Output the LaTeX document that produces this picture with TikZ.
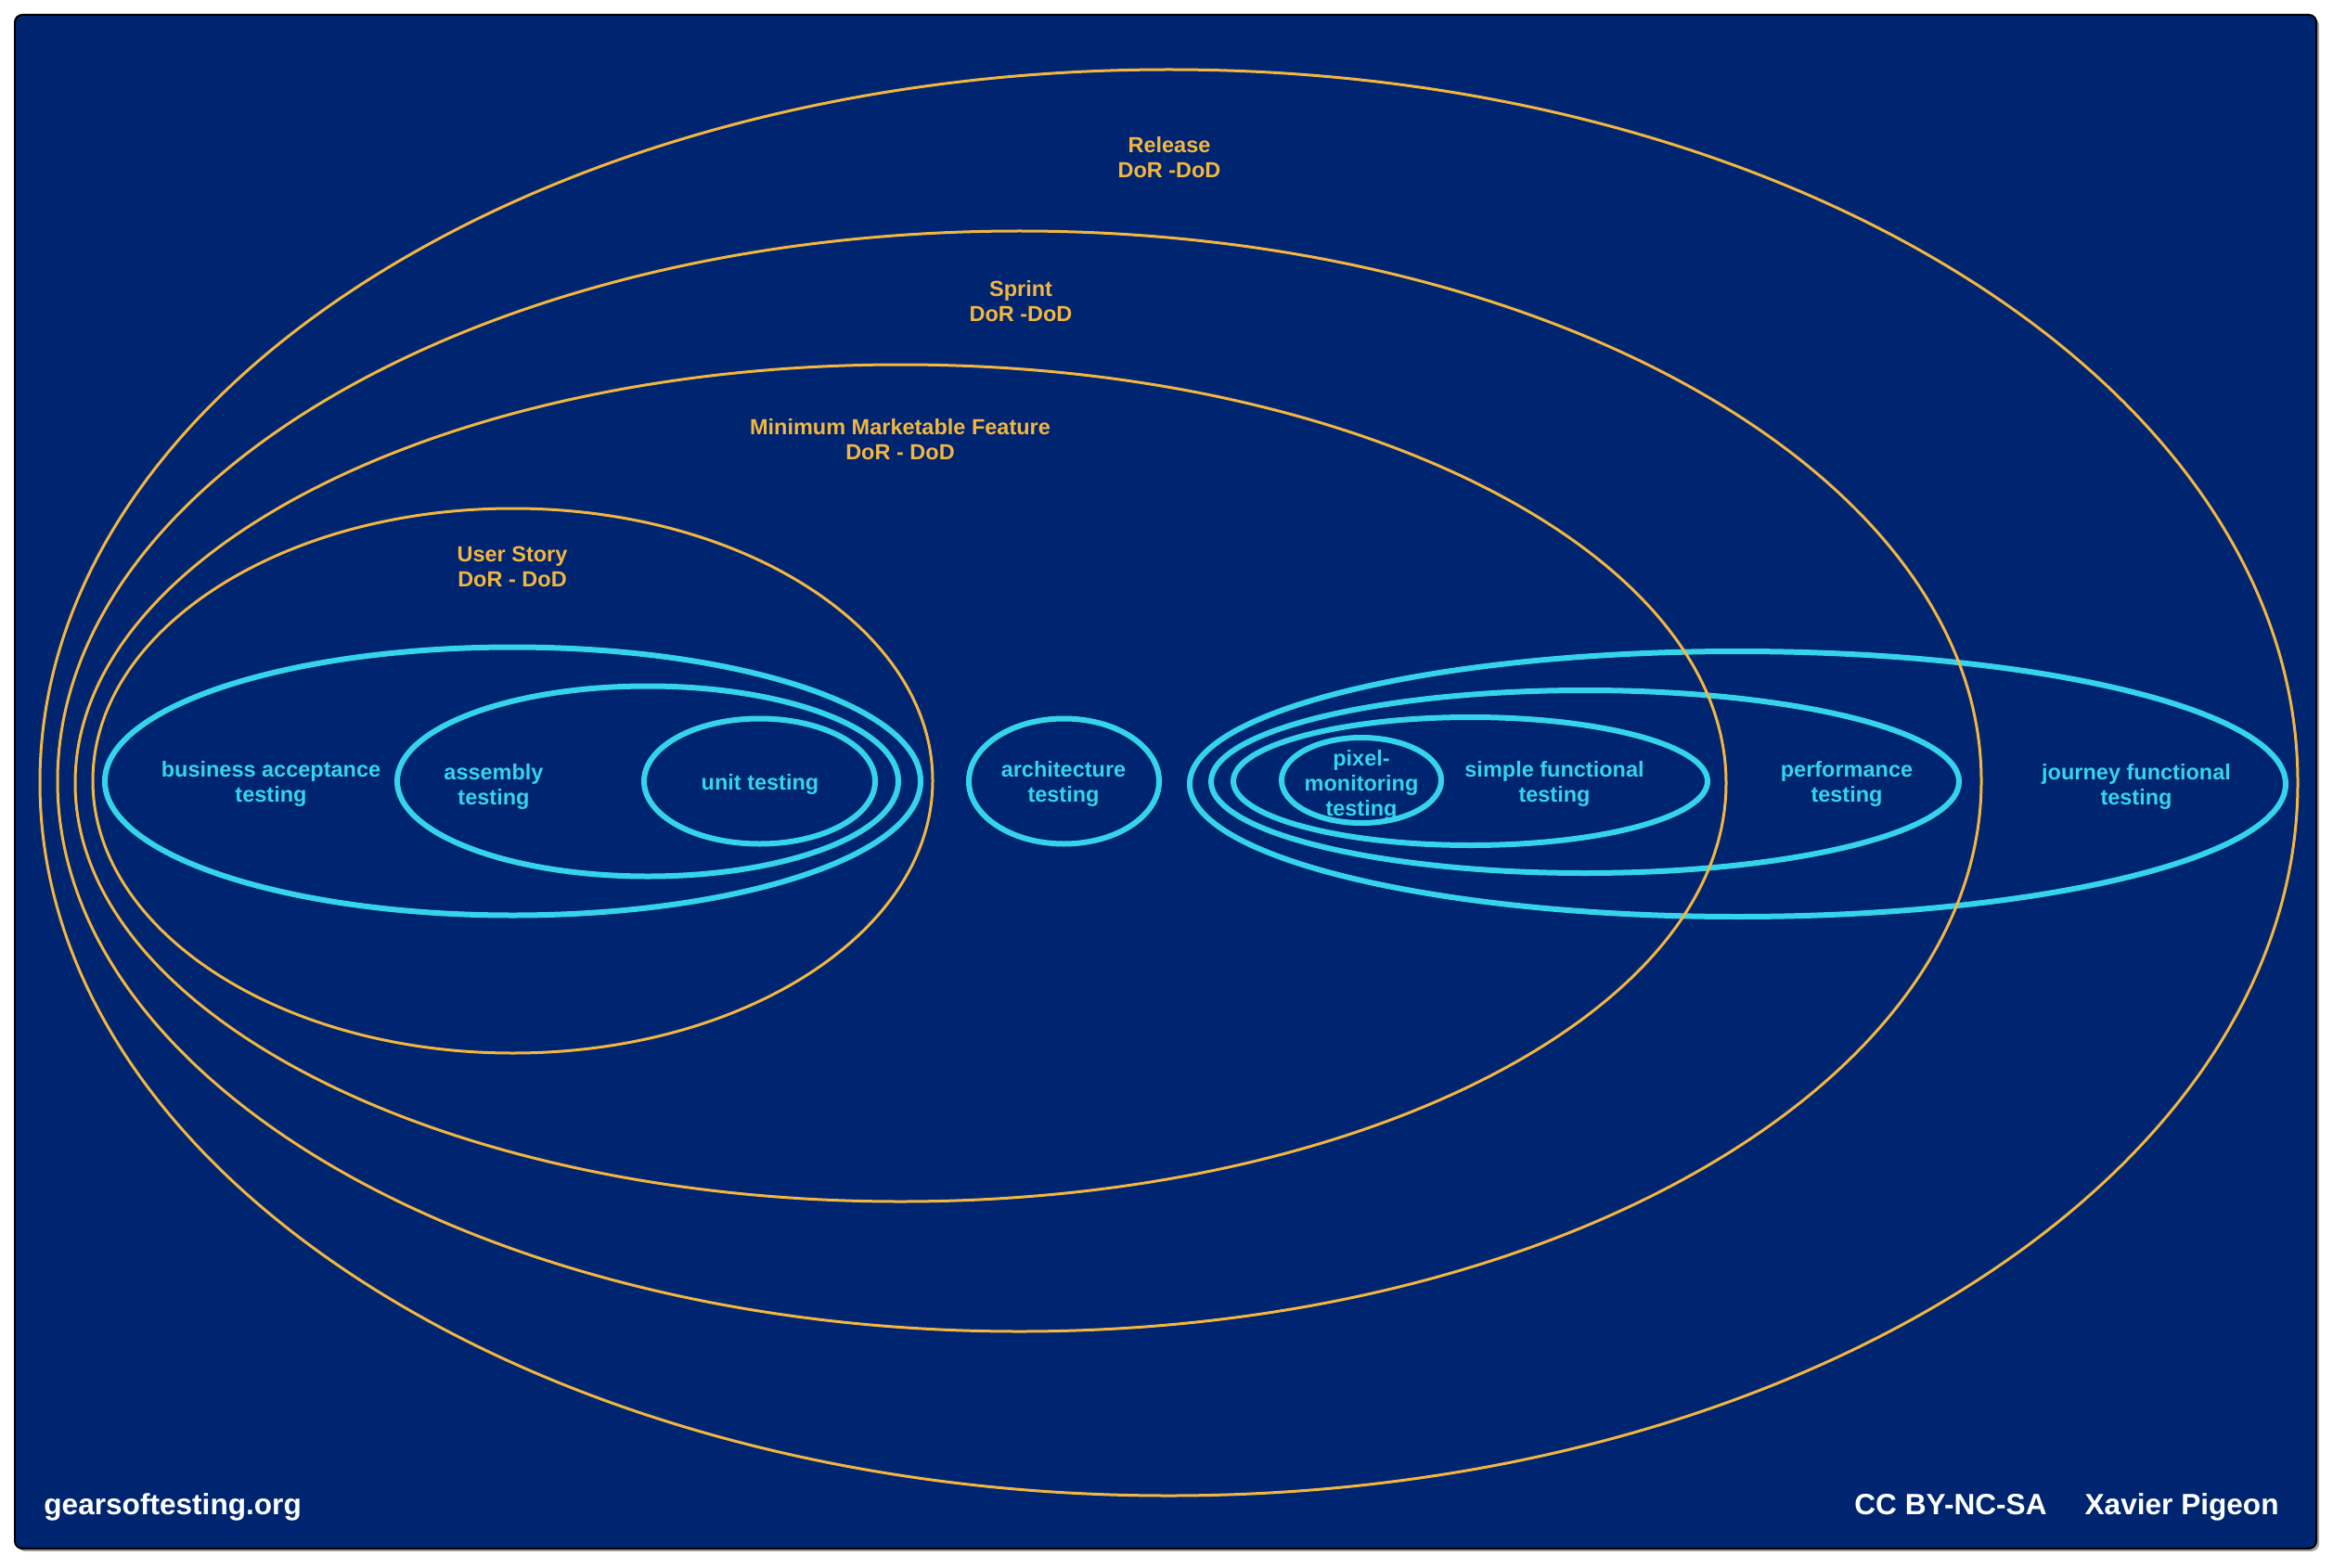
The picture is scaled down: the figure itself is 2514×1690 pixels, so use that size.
\documentclass[tikz,border=0pt]{standalone}
\usepackage{fontspec}
\setmainfont{Liberation Sans}
\usetikzlibrary{shapes.geometric}
\definecolor{navy}{RGB}{0,37,112}
\definecolor{gold}{RGB}{243,182,64}
\definecolor{cyanb}{RGB}{53,212,235}
\begin{document}
\begin{tikzpicture}[x=0.5pt,y=-0.5pt,
  ell/.style 2 args={ellipse, inner sep=0pt, outer sep=0pt, minimum width=#1pt, minimum height=#2pt},
  lvl/.style={draw=gold, line width=1.5pt},
  tst/.style={draw=cyanb, line width=3pt},
  lvltext/.style={text=gold, font=\bfseries\fontsize{11.75}{13.5}\selectfont, align=center, inner sep=0pt},
  tsttext/.style={text=cyanb, font=\bfseries\fontsize{11.75}{13.5}\selectfont, align=center, inner sep=0pt},
  foot/.style={text=white, font=\bfseries\fontsize{15.8}{18}\selectfont, inner sep=0pt}]
\useasboundingbox (0,0) rectangle (2514,1690);
\fill[white] (0,0) rectangle (2514,1690);
\fill[gray!70, rounded corners=4pt] (19,19) rectangle (2499,1672);
\filldraw[fill=navy, draw=black, line width=1pt, rounded corners=4pt] (16,16) rectangle (2496,1669);

% test ellipses (cyan)
\node[tst, ell={439.5}{144.5}] (bat) at (552.5,842) {};
\node[tst, ell={270}{102.5}] (asm) at (698,842) {};
\node[tst, ell={124.5}{67.5}] (unit) at (818.5,842) {};
\node[tst, ell={102.5}{67.5}] (arch) at (1146.5,842) {};
\node[tst, ell={590.5}{143}] (jft) at (1872.5,845) {};
\node[tst, ell={403}{98.5}] (perf) at (1708,842.5) {};
\node[tst, ell={255.5}{69}] (sft) at (1584.5,842) {};
\node[tst, ell={86}{46}] (pix) at (1467,841) {};

% level ellipses (gold)
\node[lvl, ell={1216.5}{768.5}] (rel) at (1259.5,843.5) {};
\node[lvl, ell={1036.5}{593}] (spr) at (1098.5,842) {};
\node[lvl, ell={889.5}{451}] (mmf) at (970.5,844) {};
\node[lvl, ell={452.5}{293.5}] (us) at (552.5,841.5) {};

% level labels
\node[lvltext] (relt) at (1260,170) {Release\\DoR -DoD};
\node[lvltext] (sprt) at (1100,325) {Sprint\\DoR -DoD};
\node[lvltext] (mmft) at (970,474) {Minimum Marketable Feature\\DoR - DoD};
\node[lvltext] (ust) at (552,611) {User Story\\DoR - DoD};

% test labels
\node[tsttext] (batt) at (292,845) {business acceptance\\testing};
\node[tsttext] (asmt) at (532,848) {assembly\\testing};
\node[tsttext] (unitt) at (819,845) {unit testing};
\node[tsttext] (archt) at (1146,845) {architecture\\testing};
\node[tsttext] (pixt) at (1467,846) {pixel-\\monitoring\\testing};
\node[tsttext] (sftt) at (1675,845) {simple functional\\testing};
\node[tsttext] (perft) at (1990,845) {performance\\testing};
\node[tsttext] (jftt) at (2302,848) {journey functional\\testing};

% footer
\node[foot, anchor=base west] (site) at (47,1632) {gearsoftesting.org};
\node[foot, anchor=base west] (lic) at (1998,1632) {CC BY-NC-SA};
\node[foot, anchor=base east] (auth) at (2456,1632) {Xavier Pigeon};
\end{tikzpicture}
\end{document}
